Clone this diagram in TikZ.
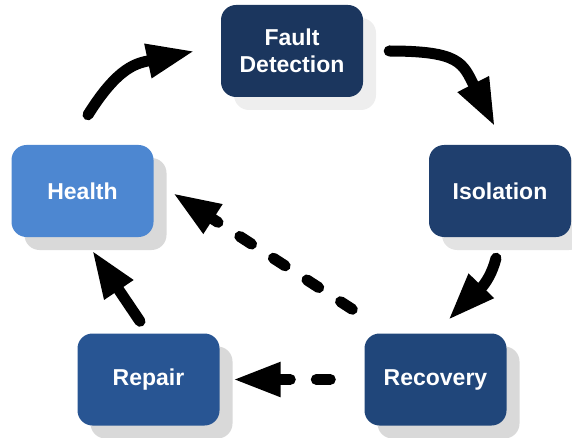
\documentclass[tikz,border=0pt]{standalone}
\usepackage{fontspec}
\setmainfont{Liberation Sans}
\usetikzlibrary{arrows.meta,shadows}

\definecolor{detectfill}{HTML}{1B365E}
\definecolor{isofill}{HTML}{1F3F6E}
\definecolor{recfill}{HTML}{20467A}
\definecolor{repfill}{HTML}{285593}
\definecolor{healthfill}{HTML}{4D87D1}
\definecolor{shadelight}{HTML}{EEEEEE}
\definecolor{shademid}{HTML}{E3E3E3}
\definecolor{shadedark}{HTML}{D9D9D9}

\begin{document}
\begin{tikzpicture}[x=1pt,y=1pt,
  stage/.style={rounded corners=15pt, minimum width=142pt, minimum height=92pt,
    inner sep=0pt, text=white, align=center,
    font=\fontsize{23}{27}\selectfont\bfseries},
  shade/.style={drop shadow={shadow xshift=13pt, shadow yshift=-13pt,
    opacity=1, fill=#1}},
  flow/.style={line width=11pt, line cap=round,
    -{Triangle[length=48pt,width=32pt]}},
  flowdash/.style={flow, dash pattern=on 14pt off 26pt}]

\useasboundingbox (0,0) rectangle (572,437);

% stages of the cycle
\node[stage, fill=detectfill, shade=shadelight] (fault)  at (292,386)   {Fault\\Detection};
\node[stage, fill=isofill,    shade=shademid]   (iso)    at (500,246)   {Isolation};
\node[stage, fill=recfill,    shade=shadedark]  (rec)    at (435.5,57.5) {Recovery};
\node[stage, fill=repfill,    shade=shadedark]  (rep)    at (148.5,57.5) {Repair};
\node[stage, fill=healthfill, shade=shadedark]  (health) at (82.5,246)  {Health};

% main cycle
\draw[flow] ([shift={(5.5,30)}]health.north)
  to[out=58, in=192, looseness=1.2] ([xshift=-26pt]fault.west);
\draw[flow] ([xshift=26pt]fault.east)
  to[out=0, in=117, looseness=1.4] ([shift={(-5,18)}]iso.north);
\draw[flow] ([shift={(-4,-21)}]iso.south)
  to[out=256, in=46] ([shift={(12.5,13)}]rec.north);
\draw[flow] ([shift={(-8.5,12)}]rep.north) -- ([shift={(9.5,-13)}]health.south);

% shortcut paths
\draw[flowdash] ([shift={(-12,24)}]rec.north west) -- ([shift={(19,-2)}]health.east);
\draw[flowdash] ([xshift=-34pt]rec.west) -- ([xshift=13pt]rep.east);

\end{tikzpicture}
\end{document}
